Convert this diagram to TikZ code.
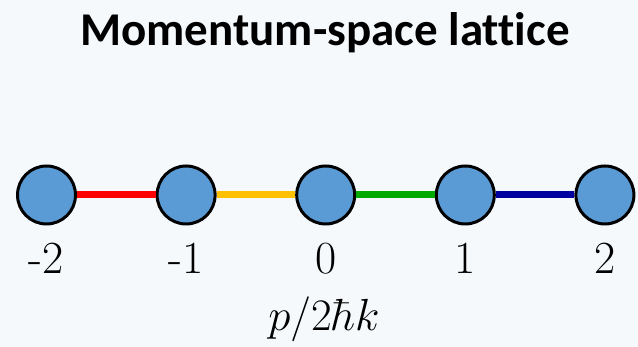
\RequirePackage{fix-cm}
\documentclass[tikz,border=0pt]{standalone}
\usepackage{fontspec}
\newfontfamily\titlefont[Ligatures=NoCommon]{Carlito}
\usetikzlibrary{positioning}
\definecolor{bgpale}{HTML}{F5F9FC}
\definecolor{sitefill}{HTML}{5B9BD5}
\definecolor{linkyellow}{HTML}{FFC000}
\definecolor{linkgreen}{HTML}{00AA00}
\definecolor{linkblue}{HTML}{0000A0}

\begin{document}
\begin{tikzpicture}[x=1pt, y=1pt, node distance=78.6pt,
    site/.style={circle, draw=black, line width=3pt, fill=sitefill, minimum size=58pt, inner sep=0pt},
    link/.style={line width=7pt},
    idx/.style={font=\fontsize{46}{50}\selectfont}]
  \fill[bgpale] (0,0) rectangle (638,347);
  \useasboundingbox (0,0) rectangle (638,347);
  \node[font=\titlefont\bfseries\fontsize{47}{52}\selectfont] (title) at (325,314) {Momentum-space lattice};
  % lattice sites
  \node[site] (m2) at (46.5,152) {};
  \node[site, right=of m2] (m1) {};
  \node[site, right=of m1] (z0) {};
  \node[site, right=of z0] (p1) {};
  \node[site, right=of p1] (p2) {};
  % couplings
  \draw[link, red] (m2) -- (m1);
  \draw[link, linkyellow] (m1) -- (z0);
  \draw[link, linkgreen] (z0) -- (p1);
  \draw[link, linkblue] (p1) -- (p2);
  % site indices
  \node[idx, below=14pt of m2] (lm2) {-2};
  \node[idx, below=14pt of m1] (lm1) {-1};
  \node[idx, below=14pt of z0] (l0) {0};
  \node[idx, below=14pt of p1] (lp1) {1};
  \node[idx, below=14pt of p2] (lp2) {2};
  \node[font=\fontsize{45}{50}\selectfont, inner sep=0pt] (axis) at (324,28) {$p/2\hbar k$};
\end{tikzpicture}
\end{document}
